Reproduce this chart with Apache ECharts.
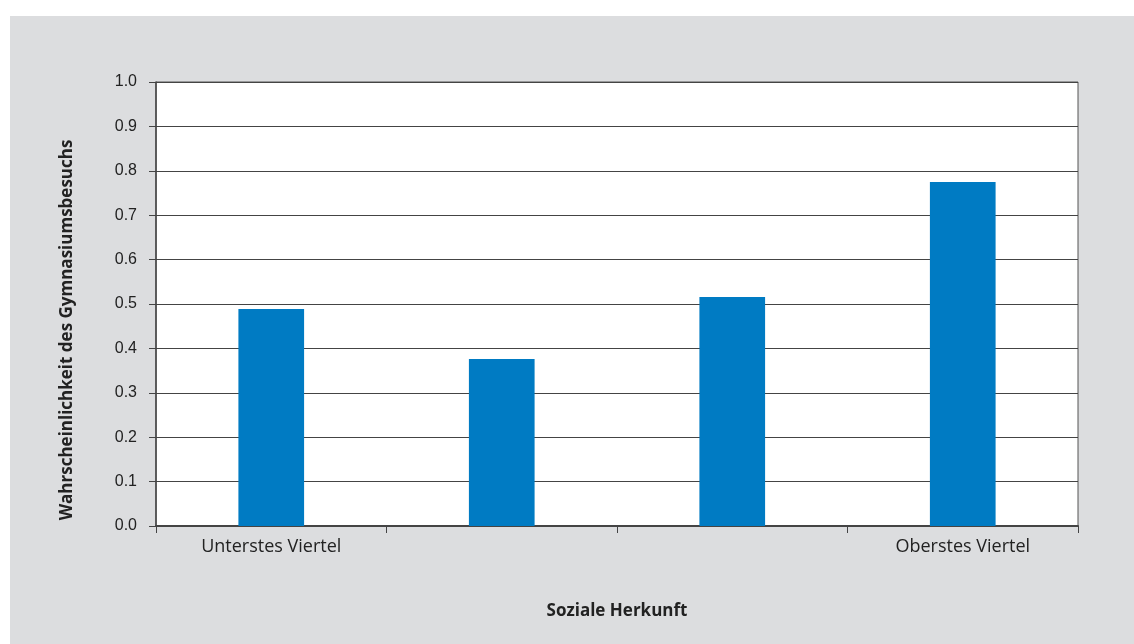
<!DOCTYPE html>
<html>
<head>
<meta charset="utf-8">
<script src="https://cdn.jsdelivr.net/npm/echarts@6/dist/echarts.min.js"></script>
<style>
html,body{margin:0;padding:0;background:#ffffff;width:1134px;height:644px;overflow:hidden;}
#chart{position:absolute;left:10px;top:16px;width:1124px;height:628px;background:#dcdddf;}
</style>
</head>
<body>
<div id="chart"></div>
<script>
const categories = ['Unterstes Viertel', '', '', 'Oberstes Viertel'];
const values = [0.489, 0.376, 0.516, 0.775];
const yTicks = { min: 0, max: 1.0, interval: 0.1 };
const xTitle = 'Soziale Herkunft';
const yTitle = 'Wahrscheinlichkeit des Gymnasiumsbesuchs';

const chart = echarts.init(document.getElementById('chart'), null, { renderer: 'canvas' });
chart.setOption({
  backgroundColor: '#dcdddf',
  animation: false,
  grid: {
    left: 146, top: 66, right: 56, bottom: 118,
    show: true, backgroundColor: '#ffffff', borderColor: '#555555', borderWidth: 1
  },
  xAxis: {
    type: 'category',
    data: categories,
    name: xTitle,
    nameLocation: 'middle',
    nameGap: 77,
    nameTextStyle: { fontFamily: 'Open Sans', fontWeight: 'bold', fontSize: 17, color: '#222' },
    axisLine: { show: true, lineStyle: { color: '#444', width: 2 } },
    axisTick: { show: true, alignWithLabel: false, length: 7, lineStyle: { color: '#444', width: 1 } },
    axisLabel: { interval: 0, margin: 12, fontFamily: 'Open Sans', fontSize: 18, color: '#222' },
    splitLine: { show: false }
  },
  yAxis: {
    type: 'value',
    min: yTicks.min, max: yTicks.max, interval: yTicks.interval,
    name: yTitle,
    nameLocation: 'middle',
    nameRotate: 90,
    nameGap: 80,
    nameTextStyle: { fontFamily: 'Open Sans', fontWeight: 'bold', fontSize: 17, color: '#222', padding: [0, 52, 0, 0] },
    axisLine: { show: true, lineStyle: { color: '#444', width: 1.5 } },
    axisTick: { show: true, length: 7, lineStyle: { color: '#444', width: 1 } },
    axisLabel: { margin: 19, fontFamily: 'Liberation Sans', fontSize: 16, color: '#222', formatter: v => v.toFixed(1) },
    splitLine: { show: true, lineStyle: { color: '#444', width: 1 } }
  },
  series: [{
    type: 'bar',
    data: values,
    barWidth: '28.5%',
    itemStyle: { color: '#007bc3' }
  }]
});
</script>
</body>
</html>
